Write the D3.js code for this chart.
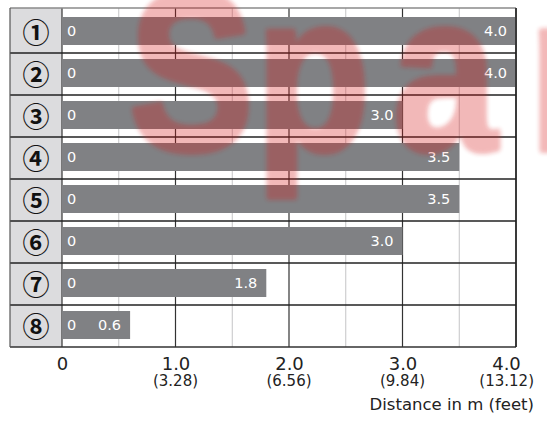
<!DOCTYPE html>
<html>
<head>
<meta charset="utf-8">
<script src="https://cdn.jsdelivr.net/npm/d3@7"></script>
<style>
  html, body { margin: 0; padding: 0; background: #fff; }
  svg { display: block; }
</style>
</head>
<body>
<div id="chart"></div>
<script>
// data
const rowLabels = ["①", "②", "③", "④", "⑤", "⑥", "⑦", "⑧"];
const distances = [4.0, 4.0, 3.0, 3.5, 3.5, 3.0, 1.8, 0.6];
const tickMeters = [0, 1, 2, 3, 4];
const tickFeet = ["", "(3.28)", "(6.56)", "(9.84)", "(13.12)"];
const gridSteps = [0, 0.5, 1, 1.5, 2, 2.5, 3, 3.5, 4];
const markLetters = ["S", "p", "a", "r"];

const WIDTH = 547, HEIGHT = 421;
const LEFT = 10, COL = 62, RIGHT = 516, TOP = 8, BOTTOM = 347;
const BAR_COLOR = "#808184";
const FONT = "'DejaVu Sans', sans-serif";

const svg = d3.select("#chart")
  .append("svg")
    .attr("width", WIDTH)
    .attr("height", HEIGHT);

const x = d3.scaleLinear().domain([0, 4]).range([COL, RIGHT]);
const y = d3.scaleBand().domain(rowLabels).range([11, BOTTOM]);

// label column
svg.append("rect")
  .attr("x", LEFT).attr("y", TOP)
  .attr("width", COL - LEFT).attr("height", BOTTOM - TOP)
  .attr("fill", "#dcdcde");

// vertical grid
svg.selectAll("gridLines")
  .data(gridSteps)
  .enter()
  .append("line")
    .attr("x1", d => x(d)).attr("x2", d => x(d))
    .attr("y1", TOP).attr("y2", BOTTOM)
    .attr("stroke", d => Number.isInteger(d) ? "#333" : "#c4c4c6")
    .attr("stroke-width", d => Number.isInteger(d) ? 1.2 : 1);

// bars
svg.selectAll("bars")
  .data(distances)
  .enter()
  .append("rect")
    .attr("x", x(0))
    .attr("y", (d, i) => y(rowLabels[i]) + 6)
    .attr("width", d => x(d) - x(0))
    .attr("height", 28)
    .attr("fill", BAR_COLOR);

// row separators
svg.selectAll("rowLines")
  .data(rowLabels.slice(1))
  .enter()
  .append("line")
    .attr("x1", LEFT).attr("x2", RIGHT)
    .attr("y1", d => y(d)).attr("y2", d => y(d))
    .attr("stroke", "#222")
    .attr("stroke-width", 1.5);

// frame
svg.append("line")
  .attr("x1", LEFT).attr("x2", RIGHT).attr("y1", TOP).attr("y2", TOP)
  .attr("stroke", "#8a8a8a").attr("stroke-width", 1.5);
svg.append("line")
  .attr("x1", LEFT).attr("x2", RIGHT).attr("y1", BOTTOM).attr("y2", BOTTOM)
  .attr("stroke", "#333").attr("stroke-width", 1.5);
svg.append("line")
  .attr("x1", LEFT).attr("x2", LEFT).attr("y1", TOP).attr("y2", BOTTOM)
  .attr("stroke", "#555").attr("stroke-width", 1.2);
svg.append("line")
  .attr("x1", RIGHT).attr("x2", RIGHT).attr("y1", TOP).attr("y2", BOTTOM)
  .attr("stroke", "#222").attr("stroke-width", 1.5);

// circled row numbers
svg.selectAll("rowNames")
  .data(rowLabels)
  .enter()
  .append("text")
    .attr("x", (LEFT + COL) / 2)
    .attr("y", d => y(d) + y.bandwidth() / 2 - 1)
    .attr("text-anchor", "middle")
    .attr("dominant-baseline", "central")
    .attr("font-family", "'Noto Sans CJK JP', 'DejaVu Sans', sans-serif")
    .attr("font-weight", "bold")
    .attr("font-size", "27px")
    .attr("fill", "#111")
    .text(d => d);

// "0" at the start of each bar
svg.selectAll("zeroLabels")
  .data(distances)
  .enter()
  .append("text")
    .attr("x", x(0) + 5)
    .attr("y", (d, i) => y(rowLabels[i]) + 6 + 14 + 5)
    .attr("font-family", FONT)
    .attr("font-size", "14.5px")
    .attr("fill", "#fff")
    .text("0");

// value at the end of each bar
svg.selectAll("valueLabels")
  .data(distances)
  .enter()
  .append("text")
    .attr("x", d => x(d) - 9)
    .attr("y", (d, i) => y(rowLabels[i]) + 6 + 14 + 5)
    .attr("text-anchor", "end")
    .attr("font-family", FONT)
    .attr("font-size", "14.5px")
    .attr("fill", "#fff")
    .text(d => d.toFixed(1));

// x axis (last label pulled inside the window like the original)
const lastTick = tickMeters[tickMeters.length - 1];
const axis = svg.append("g")
  .attr("transform", "translate(0," + BOTTOM + ")")
  .call(d3.axisBottom(x)
    .tickValues(tickMeters)
    .tickSize(0)
    .tickPadding(10)
    .tickFormat(d => d === 0 ? "0" : d.toFixed(1)));
axis.select(".domain").remove();
axis.selectAll("text")
  .attr("font-family", FONT)
  .attr("font-size", "18px")
  .attr("fill", "#222")
  .attr("dy", "0.71em")
  .attr("x", d => d === lastTick ? -10 : 0);

svg.selectAll("feetLabels")
  .data(tickMeters)
  .enter()
  .append("text")
    .attr("x", d => d === lastTick ? x(d) + 18 : x(d))
    .attr("y", 386)
    .attr("text-anchor", d => d === lastTick ? "end" : "middle")
    .attr("font-family", FONT)
    .attr("font-size", "15px")
    .attr("fill", "#222")
    .text((d, i) => tickFeet[i]);

svg.append("text")
  .attr("x", 534)
  .attr("y", 410)
  .attr("text-anchor", "end")
  .attr("font-family", FONT)
  .attr("font-size", "16.5px")
  .attr("fill", "#222")
  .text("Distance in m (feet)");

// watermark over everything
const defs = svg.append("defs");
defs.append("filter")
  .attr("id", "soft")
  .attr("x", "-10%").attr("y", "-10%")
  .attr("width", "120%").attr("height", "120%")
  .append("feGaussianBlur")
    .attr("stdDeviation", 2);

const markX = [129, 256, 393, 529];
svg.append("g")
  .attr("filter", "url(#soft)")
  .attr("opacity", 0.3)
  .selectAll("text")
  .data(markLetters)
  .enter()
  .append("text")
    .attr("transform", (d, i) => "translate(" + markX[i] + ",150) scale(0.83,1)")
    .attr("font-family", "'Liberation Sans', Arial, sans-serif")
    .attr("font-weight", "bold")
    .attr("font-size", "225px")
    .attr("fill", "rgb(215,20,20)")
    .attr("stroke", "rgb(215,20,20)")
    .attr("stroke-width", 6)
    .attr("stroke-linejoin", "round")
    .text(d => d);
</script>
</body>
</html>
